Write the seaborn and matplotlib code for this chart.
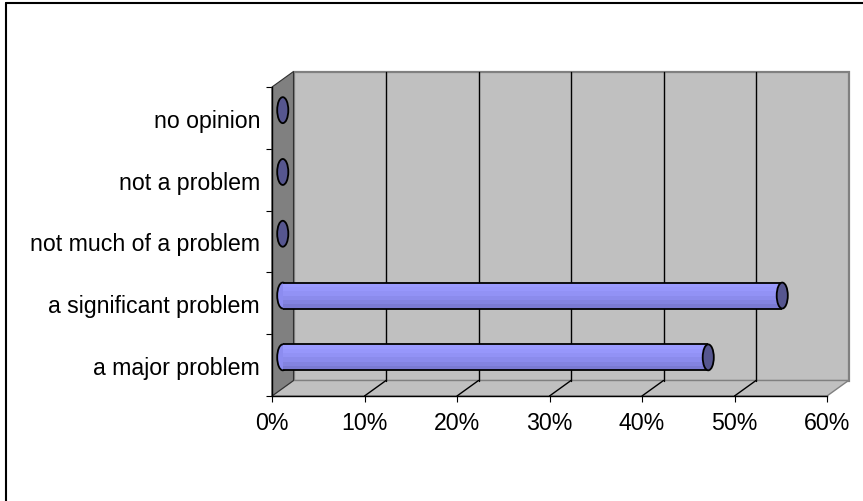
import numpy as np
import pandas as pd
import matplotlib
matplotlib.use("Agg")
import matplotlib.pyplot as plt
import seaborn as sns
from matplotlib.patches import Ellipse, Polygon
from matplotlib.lines import Line2D
from matplotlib.transforms import ScaledTranslation, IdentityTransform
from matplotlib.ticker import FixedLocator

# survey answers, top to bottom, and their share in percent
responses = ["no opinion", "not a problem", "not much of a problem",
             "a significant problem", "a major problem"]
shares = [0, 0, 0, 54, 46]
x_ticks = [0, 10, 20, 30, 40, 50, 60]
x_tick_labels = ["0%", "10%", "20%", "30%", "40%", "50%", "60%"]

W, H, DPI = 863, 502, 100
sns.set_theme(style="white")
plt.rcParams["font.family"] = ["Liberation Sans", "DejaVu Sans"]
FS = 16.7

fig = plt.figure(figsize=(W / DPI, H / DPI), dpi=DPI)
fig.patch.set_facecolor("white")

# front face of the 3-D plot box (pixels from the top-left corner)
L, R, T, B = 272, 827, 88, 397
ax = fig.add_axes([L / W, 1 - B / H, (R - L) / W, (B - T) / H])
ax.set_facecolor("none")

DX, DY = 21.5, 15.5          # depth of the box in pixels
BAR_H = 0.42                 # cylinder thickness in category units
CAP_W = 1.2                  # width of the elliptical end caps in x units
BODY = "#8c8cf0"
CAP = "#56568f"
SHADES = ["#9b9bff", "#9797fb", "#9292f5", "#8b8bec", "#8383e0", "#7a7ad2"]

df = pd.DataFrame({"response": responses, "share": shares})
sns.barplot(data=df, x="share", y="response", order=responses, orient="h",
            color=BODY, saturation=1, width=BAR_H, edgecolor="none",
            linewidth=0, ax=ax)

n = len(responses)
ax.set_xlim(0, 60)
ax.set_ylim(n - 0.5, -0.5)


def depth(frac):
    return ax.transData + ScaledTranslation(frac * DX / DPI, frac * DY / DPI,
                                            fig.dpi_scale_trans)


mid = depth(0.5)


def px(x, y, frac=0.0):
    p = ax.transData.transform((x, y))
    return (p[0] + frac * DX, p[1] + frac * DY)


ident = IdentityTransform()
x0, x1 = x_ticks[0], x_ticks[-1]
y_top, y_bot = -0.5, n - 0.5

# walls and floor of the box
back_wall = Polygon([px(x0, y_top, 1), px(x1, y_top, 1), px(x1, y_bot, 1), px(x0, y_bot, 1)],
                    closed=True, fc="#c0c0c0", ec="#808080", lw=1.6,
                    transform=ident, clip_on=False, zorder=0.5)
floor = Polygon([px(x0, y_bot), px(x0, y_bot, 1), px(x1, y_bot, 1), px(x1, y_bot)],
                closed=True, fc="#c0c0c0", ec="#808080", lw=1.0,
                transform=ident, clip_on=False, zorder=0.6)
side_wall = Polygon([px(x0, y_top), px(x0, y_top, 1), px(x0, y_bot, 1), px(x0, y_bot)],
                    closed=True, fc="#808080", ec="#303030", lw=0.8,
                    transform=ident, clip_on=False, zorder=0.7)
for p in (back_wall, floor, side_wall):
    ax.add_patch(p)

# gridlines on the back wall and across the floor
for v in x_ticks[1:-1]:
    a, b = px(v, y_bot, 1), px(v, y_top, 1)
    ax.add_line(Line2D([a[0], b[0]], [a[1], b[1]], color="black", lw=1.0,
                       transform=ident, clip_on=False, zorder=0.8))
    c = px(v, y_bot)
    ax.add_line(Line2D([c[0], a[0]], [c[1], a[1]], color="black", lw=1.0,
                       transform=ident, clip_on=False, zorder=0.8))

# cylinder bodies sit half-way into the box
for patch in ax.patches:
    if patch not in (back_wall, floor, side_wall):
        patch.set_transform(mid)
        patch.set_zorder(3)
        patch.set_clip_on(False)

ypos = np.arange(n)
for k, col in enumerate(SHADES):
    off = -BAR_H / 2 + (k + 0.5) * BAR_H / len(SHADES)
    bars = ax.barh(ypos + off, shares, height=BAR_H / len(SHADES) * 1.02,
                   color=col, lw=0, zorder=3.1)
    for b in bars:
        b.set_transform(mid)
        b.set_clip_on(False)

for i, v in enumerate(shares):
    if v > 0:
        ax.add_patch(Ellipse((0, i), CAP_W, BAR_H, fc=BODY, ec="black",
                             lw=1.3, transform=mid, zorder=2.9, clip_on=False))
        for yy in (i - BAR_H / 2, i + BAR_H / 2):
            ax.plot([0, v], [yy, yy], color="black", lw=1.3, transform=mid,
                    zorder=3.3, clip_on=False, solid_capstyle="butt")
    ax.add_patch(Ellipse((v, i), CAP_W, BAR_H, fc=CAP, ec="black", lw=1.3,
                         transform=mid, zorder=3.5, clip_on=False))

# axes, ticks and labels on the front face
for side in ("top", "right"):
    ax.spines[side].set_visible(False)
for side in ("left", "bottom"):
    ax.spines[side].set_color("black")
    ax.spines[side].set_linewidth(1.0)
    ax.spines[side].set_zorder(4)

ax.set_xticks(x_ticks)
ax.set_xticklabels(x_tick_labels)
ax.set_yticks(ypos)
ax.set_yticklabels(responses)
ax.yaxis.set_minor_locator(FixedLocator(np.arange(n + 1) - 0.5))
ax.set_xlabel("")
ax.set_ylabel("")
ax.tick_params(axis="x", which="major", bottom=True, length=4.3, width=0.8,
               color="black", direction="out", pad=6.5, labelsize=FS,
               labelcolor="black")
ax.tick_params(axis="y", which="major", left=True, length=0, pad=8.6,
               labelsize=FS, labelcolor="black")
ax.tick_params(axis="y", which="minor", left=True, length=4.3, width=0.8,
               color="black", direction="out")
ax.grid(False)

# chart-area frame along the top and left edges
fig.add_artist(Line2D([6, W], [H - 4, H - 4], color="black", lw=1.5,
                      transform=ident))
fig.add_artist(Line2D([6, 6], [0, H - 4], color="black", lw=1.5,
                      transform=ident))

fig.savefig("out.png", dpi=DPI, facecolor="white")
